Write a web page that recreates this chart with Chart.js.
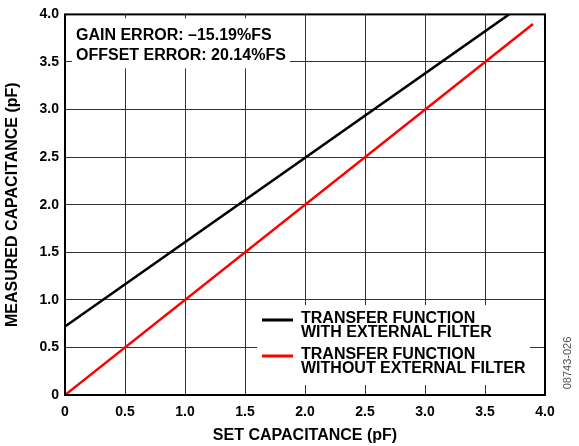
<!DOCTYPE html>
<html>
<head>
<meta charset="utf-8">
<script src="https://cdn.jsdelivr.net/npm/chart.js@4/dist/chart.umd.min.js"></script>
<style>
  html, body { margin: 0; padding: 0; background: #fff; }
  canvas { display: block; }
</style>
</head>
<body>
<canvas id="chart" width="579" height="446"></canvas>
<script>
// set capacitance (pF) vs measured capacitance (pF)
const withFilterX = [0, 3.7]
const withFilterY = [0.72, 4.0]
const withoutFilterX = [0, 3.9]
const withoutFilterY = [0, 3.9]

const seriesLabels = [
  ['TRANSFER FUNCTION', 'WITH EXTERNAL FILTER'],
  ['TRANSFER FUNCTION', 'WITHOUT EXTERNAL FILTER']
]
const seriesColors = ['#000000', '#ff0000']
const noteLines = ['GAIN ERROR: \u201315.19%FS', 'OFFSET ERROR: 20.14%FS']
const figureId = '08743-026'

const FONT = "'Liberation Sans', Arial, sans-serif"

const toPoints = (xs, ys) => xs.map((x, i) => ({ x: x, y: ys[i] }))

// white boxes cover the grid, then text + legend go on top
const boxesPlugin = {
  id: 'boxes',
  beforeDatasetsDraw(chart) {
    const { ctx, chartArea: a } = chart
    ctx.save()
    ctx.fillStyle = '#fff'
    ctx.fillRect(a.left + 7, a.top + 4, 218, 50)
    ctx.fillRect(a.left + 192, a.bottom - 90, 273, 80)
    ctx.restore()
  },
  afterDatasetsDraw(chart) {
    const { ctx, chartArea: a } = chart
    ctx.save()
    ctx.fillStyle = '#000'
    ctx.font = 'bold 16px ' + FONT
    ctx.textBaseline = 'middle'
    ctx.textAlign = 'left'
    noteLines.forEach((t, i) => ctx.fillText(t, a.left + 11, a.top + 21 + i * 20))

    // legend
    chart.data.datasets.forEach((ds, i) => {
      const y = a.bottom - 75 + i * 36
      ctx.strokeStyle = ds.borderColor
      ctx.lineWidth = 3
      ctx.beginPath()
      ctx.moveTo(a.left + 197, y)
      ctx.lineTo(a.left + 228, y)
      ctx.stroke()
      ctx.fillStyle = '#000'
      seriesLabels[i].forEach((t, j) => ctx.fillText(t, a.left + 236, y - 1 + j * 14))
    })

    // frame
    ctx.strokeStyle = '#000'
    ctx.lineWidth = 2
    ctx.strokeRect(a.left, a.top, a.right - a.left, a.bottom - a.top)

    // figure number
    ctx.translate(chart.width - 11, a.bottom - 32)
    ctx.rotate(-Math.PI / 2)
    ctx.fillStyle = '#555'
    ctx.font = '11px ' + FONT
    ctx.textAlign = 'center'
    ctx.fillText(figureId, 0, 0)
    ctx.restore()
  }
}

const tickFmt = v => (v === 0 ? '0' : v.toFixed(1))

new Chart(document.getElementById('chart'), {
  type: 'line',
  data: {
    datasets: [
      {
        label: seriesLabels[0].join(' '),
        data: toPoints(withFilterX, withFilterY),
        borderColor: seriesColors[0],
        borderWidth: 2.5,
        pointRadius: 0,
        tension: 0
      },
      {
        label: seriesLabels[1].join(' '),
        data: toPoints(withoutFilterX, withoutFilterY),
        borderColor: seriesColors[1],
        borderWidth: 2.5,
        pointRadius: 0,
        tension: 0
      }
    ]
  },
  options: {
    responsive: false,
    animation: false,
    layout: { padding: { top: 11, right: 34, left: 0, bottom: 0 } },
    plugins: {
      legend: { display: false },
      tooltip: { enabled: false }
    },
    scales: {
      x: {
        type: 'linear',
        min: 0,
        max: 4,
        afterFit: s => { s.height = 51 },
        grid: { color: '#333', lineWidth: 1, drawTicks: false },
        border: { display: false },
        ticks: {
          stepSize: 0.5,
          padding: 9,
          color: '#000',
          font: { family: FONT, size: 14, weight: 'bold' },
          callback: tickFmt
        },
        title: {
          display: true,
          text: 'SET CAPACITANCE (pF)',
          color: '#000',
          font: { family: FONT, size: 16, weight: 'bold' },
          padding: { top: 0, bottom: 1 }
        }
      },
      y: {
        min: 0,
        max: 4,
        afterFit: s => { s.width = 65 },
        grid: { color: '#333', lineWidth: 1, drawTicks: false },
        border: { display: false },
        ticks: {
          stepSize: 0.5,
          padding: 6,
          color: '#000',
          font: { family: FONT, size: 14, weight: 'bold' },
          callback: tickFmt
        },
        title: {
          display: true,
          text: 'MEASURED CAPACITANCE (pF)',
          color: '#000',
          font: { family: FONT, size: 16, weight: 'bold' },
          padding: { top: 3, bottom: 0 }
        }
      }
    }
  },
  plugins: [boxesPlugin]
})
</script>
</body>
</html>
